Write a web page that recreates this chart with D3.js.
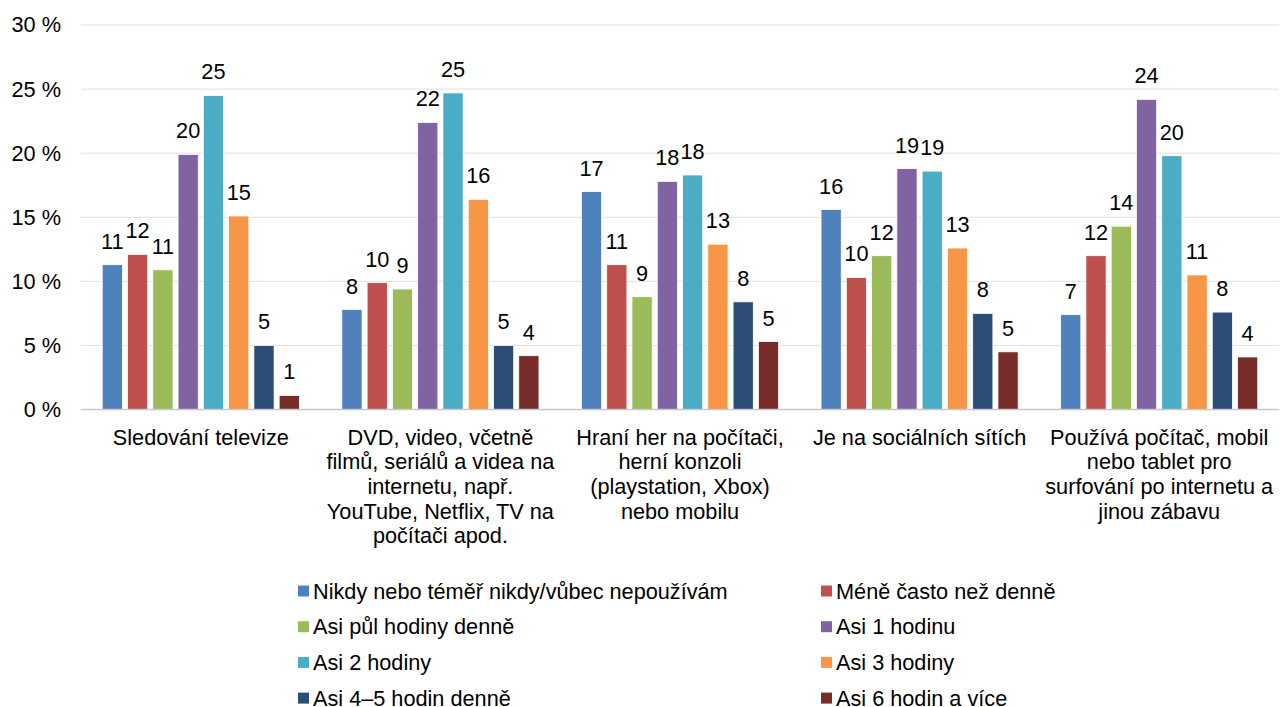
<!DOCTYPE html>
<html>
<head>
<meta charset="utf-8">
<script src="https://cdn.jsdelivr.net/npm/d3@7"></script>
<style>
  body { margin: 0; background: #fff; }
  svg text { font-family: "Liberation Sans", Arial, sans-serif; fill: #000; }
</style>
</head>
<body>
<svg id="chart" width="1280" height="707"></svg>
<script>
// categories (each entry = lines of the wrapped label)
var categories = [
    ["Sledování televize"],
    ["DVD, video, včetně", "filmů, seriálů a videa na", "internetu, např.", "YouTube, Netflix, TV na", "počítači apod."],
    ["Hraní her na počítači,", "herní konzoli", "(playstation, Xbox)", "nebo mobilu"],
    ["Je na sociálních sítích"],
    ["Používá počítač, mobil", "nebo tablet pro", "surfování po internetu a", "jinou zábavu"]
];
var seriesNames = [
    "Nikdy nebo téměř nikdy/vůbec nepoužívám",
    "Méně často než denně",
    "Asi půl hodiny denně",
    "Asi 1 hodinu",
    "Asi 2 hodiny",
    "Asi 3 hodiny",
    "Asi 4–5 hodin denně",
    "Asi 6 hodin a více"
];
var seriesColors = ["#4f81bd", "#c0504d", "#9bbb59", "#8064a2", "#4bacc6", "#f79646", "#2c4d75", "#772c2a"];

// values per series, one per category (percent)
var nikdy   = [11.3, 7.8, 17.0, 15.6, 7.4];
var mene    = [12.1, 9.9, 11.3, 10.3, 12.0];
var pul     = [10.9, 9.4, 8.8, 12.0, 14.3];
var hod1    = [19.9, 22.4, 17.8, 18.8, 24.2];
var hod2    = [24.5, 24.7, 18.3, 18.6, 19.8];
var hod3    = [15.1, 16.4, 12.9, 12.6, 10.5];
var hod45   = [5.0, 5.0, 8.4, 7.5, 7.6];
var hod6    = [1.1, 4.2, 5.3, 4.5, 4.1];
var seriesValues = [nikdy, mene, pul, hod1, hod2, hod3, hod45, hod6];

var yTicks = [0, 5, 10, 15, 20, 25, 30];

var svg = d3.select("#chart");
var pLeft = 81, pRight = 1279, pTop = 25, pBottom = 409.5;
var fontSize = "21.7px";

var y = d3.scaleLinear().domain([0, 30]).range([pBottom, pTop]);
var x0 = d3.scaleBand().domain(d3.range(categories.length)).range([pLeft, pRight]);
var x1 = d3.scaleBand().domain(d3.range(seriesNames.length))
    .range([0, x0.bandwidth()]).paddingInner(0.2).paddingOuter(0.84);

// gridlines
svg.append("g")
    .selectAll("line")
    .data(yTicks.filter(function(d) { return d > 0; }))
    .enter().append("line")
    .attr("x1", pLeft).attr("x2", pRight)
    .attr("y1", function(d) { return y(d); })
    .attr("y2", function(d) { return y(d); })
    .attr("stroke", "#e0e0e0")
    .attr("stroke-width", 1);

// y axis labels
var yAxis = d3.axisLeft(y).tickValues(yTicks).tickSize(0).tickPadding(0)
    .tickFormat(function(d) { return d + " %"; });
var gy = svg.append("g").attr("transform", "translate(61,0)").call(yAxis);
gy.select(".domain").remove();
gy.selectAll("text")
    .style("font-size", fontSize)
    .style("font-family", "Liberation Sans, Arial, sans-serif")
    .attr("fill", "#000");

// bars
var groups = svg.append("g").selectAll("g")
    .data(categories)
    .enter().append("g")
    .attr("transform", function(d, i) { return "translate(" + x0(i) + ",0)"; });

groups.selectAll("rect")
    .data(function(d, i) { return seriesValues.map(function(s, j) { return { s: j, v: s[i] }; }); })
    .enter().append("rect")
    .attr("x", function(d) { return x1(d.s); })
    .attr("width", x1.bandwidth())
    .attr("y", function(d) { return y(d.v); })
    .attr("height", function(d) { return pBottom - y(d.v); })
    .attr("fill", function(d) { return seriesColors[d.s]; })
    .attr("stroke", "#ffffff")
    .attr("stroke-width", 0.8);

groups.selectAll("text.val")
    .data(function(d, i) { return seriesValues.map(function(s, j) { return { s: j, v: s[i] }; }); })
    .enter().append("text")
    .attr("class", "val")
    .attr("x", function(d) { return x1(d.s) + x1.bandwidth() / 2; })
    .attr("y", function(d) { return y(d.v) - 16; })
    .attr("text-anchor", "middle")
    .style("font-size", fontSize)
    .text(function(d) { return Math.round(d.v); });

// x axis line
svg.append("line")
    .attr("x1", pLeft).attr("x2", pRight)
    .attr("y1", pBottom).attr("y2", pBottom)
    .attr("stroke", "#c8c8c8")
    .attr("stroke-width", 1.5);

// category labels
var catLabels = svg.append("g").selectAll("text")
    .data(categories)
    .enter().append("text")
    .attr("text-anchor", "middle")
    .style("font-size", fontSize)
    .attr("transform", function(d, i) { return "translate(" + (x0(i) + x0.bandwidth() / 2) + ",444.5)"; });
catLabels.selectAll("tspan")
    .data(function(d) { return d; })
    .enter().append("tspan")
    .attr("x", 0)
    .attr("y", function(d, i) { return i * 24.7; })
    .text(function(d) { return d; });

// legend: two columns, row-major
var legend = svg.append("g").selectAll("g")
    .data(seriesNames)
    .enter().append("g")
    .attr("transform", function(d, i) {
        var col = i % 2, row = Math.floor(i / 2);
        return "translate(" + (col === 0 ? 298 : 821) + "," + (591 + row * 35.7) + ")";
    });
legend.append("rect")
    .attr("x", 0).attr("y", -5.5)
    .attr("width", 11).attr("height", 11)
    .attr("fill", function(d, i) { return seriesColors[i]; });
legend.append("text")
    .attr("x", 15)
    .attr("dy", "0.35em")
    .style("font-size", fontSize)
    .text(function(d) { return d; });
</script>
</body>
</html>
